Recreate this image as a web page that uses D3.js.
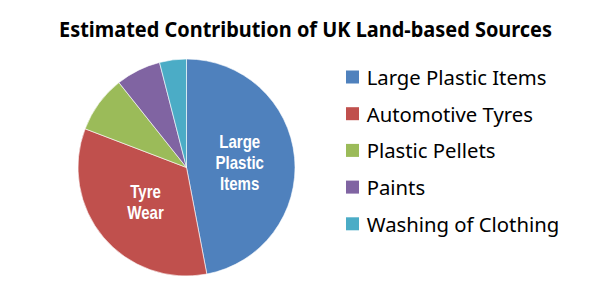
<!DOCTYPE html>
<html><head><meta charset="utf-8">
<script src="https://cdn.jsdelivr.net/npm/d3@7"></script>
<style>body{margin:0;background:#fff}svg{display:block}</style>
</head><body>
<svg id="c" width="598" height="308"></svg>
<script>
const categories = ["Large Plastic Items","Automotive Tyres","Plastic Pellets","Paints","Washing of Clothing"];
const values = [47.0, 33.8, 8.5, 6.7, 4.0];
const colors = ["#4F81BD","#C0504D","#9BBB59","#8064A2","#4BACC6"];
const sliceLabels = [["Large","Plastic","Items"],["Tyre","Wear"],[],[],[]];
const title = "Estimated Contribution of UK Land-based Sources";

const svg = d3.select("#c");
const cx = 186.5, cy = 167.5, r = 108.5;

function fit(sel, w){ sel.each(function(){ const l=this.getComputedTextLength(); if(l>0) d3.select(this).attr("textLength", w).attr("lengthAdjust","spacingAndGlyphs"); }); }

svg.append("text").attr("x", 305.5).attr("y", 36.7).attr("text-anchor","middle")
  .attr("font-family","Noto Sans, sans-serif").attr("font-weight","bold").attr("font-size",21)
  .attr("fill","#000").text(title).call(fit, 493);

const data = categories.map((c,i)=>({c, v: values[i], color: colors[i], lab: sliceLabels[i]}));
const pie = d3.pie().value(d=>d.v).sort(null);
const arcs = pie(data);
const arc = d3.arc().innerRadius(0).outerRadius(r);
const labelArc = d3.arc().innerRadius(0).outerRadius(r*0.985);

const g = svg.append("g").attr("transform",`translate(${cx},${cy})`);
g.selectAll("path").data(arcs).join("path").attr("d", arc)
  .attr("fill", d=>d.data.color).attr("stroke","#fff").attr("stroke-width",0.6);

const lh = 21;
arcs.forEach(a=>{
  const lines = a.data.lab; if(!lines.length) return;
  const [x,y] = labelArc.centroid(a);
  const t = g.append("g").attr("transform",`translate(${x},${y}) scale(0.86,1)`)
    .append("text").attr("text-anchor","middle")
    .attr("font-family","Liberation Sans, Arial, sans-serif").attr("font-weight","bold").attr("font-size",17.5)
    .attr("fill","#fff");
  lines.forEach((ln,i)=>{
    t.append("tspan").attr("x", 0).attr("y", (i - (lines.length-1)/2)*lh + 6.2).text(ln);
  });
});

const leg = svg.append("g").attr("transform","translate(346,70.5)");
const rowH = 36.7;
const items = leg.selectAll("g").data(data).join("g").attr("transform",(d,i)=>`translate(0,${i*rowH})`);
items.append("rect").attr("width",13).attr("height",13).attr("fill",d=>d.color);
items.append("text").attr("x",20.7).attr("y",14.5)
  .attr("font-family","Noto Sans, sans-serif").attr("font-size",20.3).attr("fill","#000")
  .text(d=>d.c);
</script>
</body></html>
